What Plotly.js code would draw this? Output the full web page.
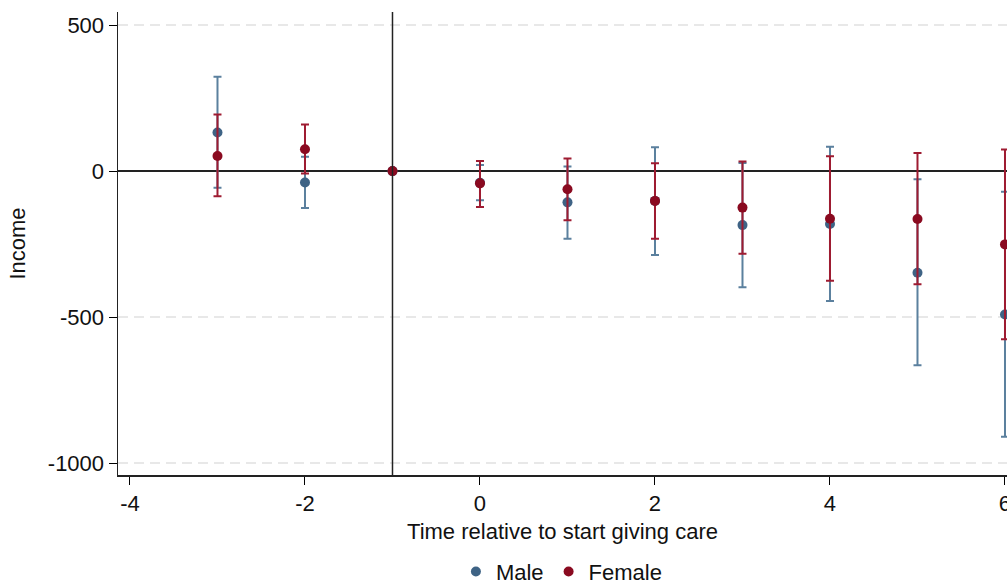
<!DOCTYPE html>
<html>
<head>
<meta charset="utf-8">
<script src="https://cdn.plot.ly/plotly-3.0.1.min.js"></script>
<style>html,body{margin:0;padding:0;background:#fff;}#chart{width:1007px;height:584px;}</style>
</head>
<body>
<div id="chart"></div>
<script>
var time = [-3, -2, -1, 0, 1, 2, 3, 4, 5, 6];
var maleEst = [132, -39, 0, -40, -107, -102, -185, -181, -348, -491];
var maleHi  = [323, 49, null, 21, 16, 82, 28, 83, -28, -71];
var maleLo  = [-57, -126, null, -100, -232, -287, -398, -445, -665, -910];
var femaleEst = [52, 75, 0, -42, -62, -102, -125, -163, -164, -251];
var femaleHi  = [194, 160, null, 35, 43, 27, 33, 51, 62, 74];
var femaleLo  = [-86, -8, null, -123, -168, -232, -283, -376, -388, -576];
var xTicks = [-4, -2, 0, 2, 4, 6];
var yTicks = [-1000, -500, 0, 500];

function plus(hi, est){ return hi.map(function(h,i){ return h===null ? NaN : h - est[i]; }); }
function minus(lo, est){ return lo.map(function(l,i){ return l===null ? NaN : est[i] - l; }); }

var font = 'Liberation Sans, Arial, sans-serif';
var fs = 22;
var traces = [
  {x: time, y: maleEst, type: 'scatter', mode: 'markers', name: 'Male',
   marker: {color: '#3e6385', size: 10},
   error_y: {type: 'data', symmetric: false, array: plus(maleHi, maleEst), arrayminus: minus(maleLo, maleEst),
             color: '#5b809e', thickness: 2, width: 4}},
  {x: time, y: femaleEst, type: 'scatter', mode: 'markers', name: 'Female',
   marker: {color: '#8a0a20', size: 10},
   error_y: {type: 'data', symmetric: false, array: plus(femaleHi, femaleEst), arrayminus: minus(femaleLo, femaleEst),
             color: '#9e1b31', thickness: 2, width: 4}}
];

var layout = {
  width: 1007, height: 584,
  margin: {l: 118, r: 0, t: 12, b: 109},
  paper_bgcolor: '#fff', plot_bgcolor: '#fff',
  font: {family: font, size: fs, color: '#111'},
  showlegend: true,
  legend: {orientation: 'h', x: 0.558, xref: 'container', xanchor: 'center',
           y: 0.021, yref: 'container', yanchor: 'middle',
           font: {family: font, size: fs, color: '#111'}},
  xaxis: {range: [-4.137, 6.023], tickvals: xTicks, ticktext: xTicks.map(String),
          ticks: 'outside', ticklen: 8, tickcolor: '#000', tickwidth: 1,
          ticklabeloverflow: 'allow',
          showline: true, linecolor: '#222', linewidth: 1.5,
          showgrid: false, zeroline: false,
          title: {text: 'Time relative to start giving care', font: {family: font, size: fs}, standoff: 8}},
  yaxis: {range: [-1041, 545], tickvals: yTicks, ticktext: yTicks.map(String),
          ticks: 'outside', ticklen: 8, tickcolor: '#000', tickwidth: 1,
          showline: true, linecolor: '#222', linewidth: 1.5,
          showgrid: true, gridcolor: '#e8e8e8', gridwidth: 1.5, griddash: '10px,6px',
          zeroline: true, zerolinecolor: '#222', zerolinewidth: 2,
          title: {text: 'Income', font: {family: font, size: fs}, standoff: 16}},
  shapes: [{type: 'line', xref: 'x', yref: 'paper', x0: -1, x1: -1, y0: 0, y1: 1,
            line: {color: '#222', width: 1.5}}]
};

Plotly.newPlot('chart', traces, layout, {displayModeBar: false, staticPlot: true});
</script>
</body>
</html>
